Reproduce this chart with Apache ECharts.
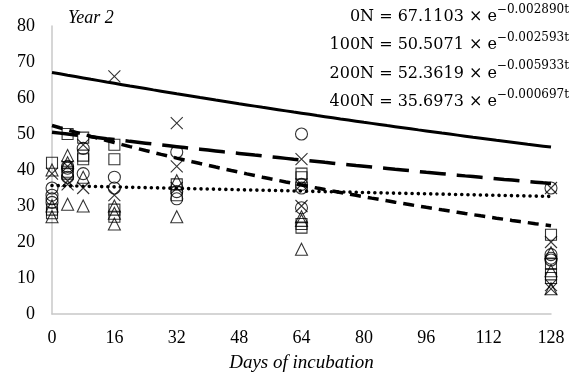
<!DOCTYPE html>
<html>
<head>
<meta charset="utf-8">
<script src="https://cdn.jsdelivr.net/npm/echarts@6/dist/echarts.min.js"></script>
<style>
  html, body { margin: 0; padding: 0; background: #fff; }
  #chart { width: 579px; height: 379px; }
</style>
</head>
<body>
<div id="chart"></div>
<script>
// Measured values, [day, value] per marker group
const circlePts = [
  [0, 35], [0, 32], [0, 31], [0, 33],
  [4, 40.5], [4, 38], [4, 41],
  [8, 46], [8, 39],
  [16, 38], [16, 35],
  [32, 45], [32, 34], [32, 32],
  [64, 50], [64, 36], [64, 35], [64, 29.5],
  [128, 35], [128, 16.5], [128, 15.5], [128, 15]
];
const crossPts = [
  [0, 39],
  [4, 41], [4, 37], [4, 36],
  [8, 47], [8, 35],
  [16, 66], [16, 33],
  [32, 53], [32, 41], [32, 35],
  [64, 43], [64, 36], [64, 30],
  [128, 35], [128, 20], [128, 8], [128, 7]
];
const squarePts = [
  [0, 42], [0, 29], [0, 28],
  [4, 50], [4, 39.5], [4, 39],
  [8, 49], [8, 44], [8, 43],
  [16, 47], [16, 43], [16, 29], [16, 27],
  [32, 36], [32, 33],
  [64, 39], [64, 38], [64, 25], [64, 24],
  [128, 22], [128, 14], [128, 11], [128, 10]
];
const trianglePts = [
  [0, 40], [0, 30], [0, 27],
  [4, 44], [4, 42], [4, 30.5],
  [8, 38], [8, 30],
  [16, 30], [16, 28], [16, 25],
  [32, 37], [32, 27],
  [64, 27], [64, 26], [64, 18],
  [128, 17], [128, 12], [128, 7]
];

// Exponential fits: value = a * exp(-k * t)
const fitNames = ['0N', '100N', '200N', '400N'];
const fitA = [67.1103, 50.5071, 52.3619, 35.6973];
const fitK = [0.002890, 0.002593, 0.005933, 0.000697];
const fitLabelA = ['67.1103', '50.5071', '52.3619', '35.6973'];
const fitLabelK = ['0.002890', '0.002593', '0.005933', '0.000697'];

const xTicks = [0, 16, 32, 48, 64, 80, 96, 112, 128];

function fitCurve(i) {
  const pts = [];
  for (let t = 0; t <= 128; t += 2) pts.push([t, fitA[i] * Math.exp(-fitK[i] * t)]);
  return pts;
}

const serif = '"Liberation Serif", "Times New Roman", serif';
const eqFont = '"DejaVu Serif", serif';

const lineStyles = [
  { type: 'solid', width: 3 },
  { type: [26, 11], width: 3.5 },
  { type: [11, 7], width: 3.5 },
  { type: [0.01, 6.2], width: 3.6, cap: 'round' }
];

const hollow = { color: 'rgba(0,0,0,0)', borderColor: '#000', borderWidth: 1.1 };

const series = [
  { type: 'scatter', data: squarePts, symbol: 'rect', symbolSize: 11, itemStyle: hollow },
  { type: 'scatter', data: trianglePts, symbol: 'triangle', symbolSize: 12, itemStyle: hollow },
  { type: 'scatter', data: circlePts, symbol: 'circle', symbolSize: 12, itemStyle: hollow },
  { type: 'scatter', data: crossPts, symbol: 'path://M0,0L10,10M10,0L0,10', symbolSize: 12,
    itemStyle: { color: 'none', borderColor: '#000', borderWidth: 1.1 } }
];
fitNames.forEach((n, i) => {
  series.push({
    type: 'line', name: n, data: fitCurve(i), showSymbol: false, smooth: false,
    lineStyle: Object.assign({ color: '#000' }, lineStyles[i]), z: 5, silent: true
  });
});

// Fit equations, right-aligned in the upper right corner
const eqTexts = fitNames.map((n, i) => ({
  type: 'text',
  right: 10,
  top: 3.5 + i * 28.3,
  style: {
    text: '{a|' + n + ' = ' + fitLabelA[i] + ' × e}{b|−' + fitLabelK[i] + 't}',
    rich: {
      a: { fontFamily: eqFont, fontSize: 16, fill: '#000', lineHeight: 27, verticalAlign: 'middle' },
      b: { fontFamily: eqFont, fontSize: 12, fill: '#000', lineHeight: 12, verticalAlign: 'top' }
    }
  }
}));

const chart = echarts.init(document.getElementById('chart'), null, { renderer: 'canvas' });
chart.setOption({
  backgroundColor: '#fff',
  animation: false,
  grid: { left: 52, right: 28, top: 26, bottom: 65, containLabel: false },
  xAxis: {
    type: 'value', min: 0, max: 128, interval: 16,
    axisLine: { show: true, lineStyle: { color: '#c8c8c8', width: 1.5 } },
    axisTick: { show: false },
    splitLine: { show: false },
    axisLabel: { color: '#000', fontFamily: serif, fontSize: 18, margin: 15,
      formatter: v => (xTicks.indexOf(v) >= 0 ? String(v) : '') },
    name: 'Days of incubation', nameLocation: 'middle', nameGap: 39,
    nameTextStyle: { color: '#000', fontFamily: serif, fontSize: 19, fontStyle: 'italic' }
  },
  yAxis: {
    type: 'value', min: 0, max: 80, interval: 10,
    axisLine: { show: true, lineStyle: { color: '#c8c8c8', width: 1.5 } },
    axisTick: { show: false },
    splitLine: { show: false },
    axisLabel: { color: '#000', fontFamily: serif, fontSize: 18, margin: 17 }
  },
  graphic: [
    { type: 'text', left: 68, top: 9,
      style: { text: 'Year 2', fontFamily: serif, fontSize: 18, fontStyle: 'italic', fill: '#000' } }
  ].concat(eqTexts),
  series: series
});
</script>
</body>
</html>
